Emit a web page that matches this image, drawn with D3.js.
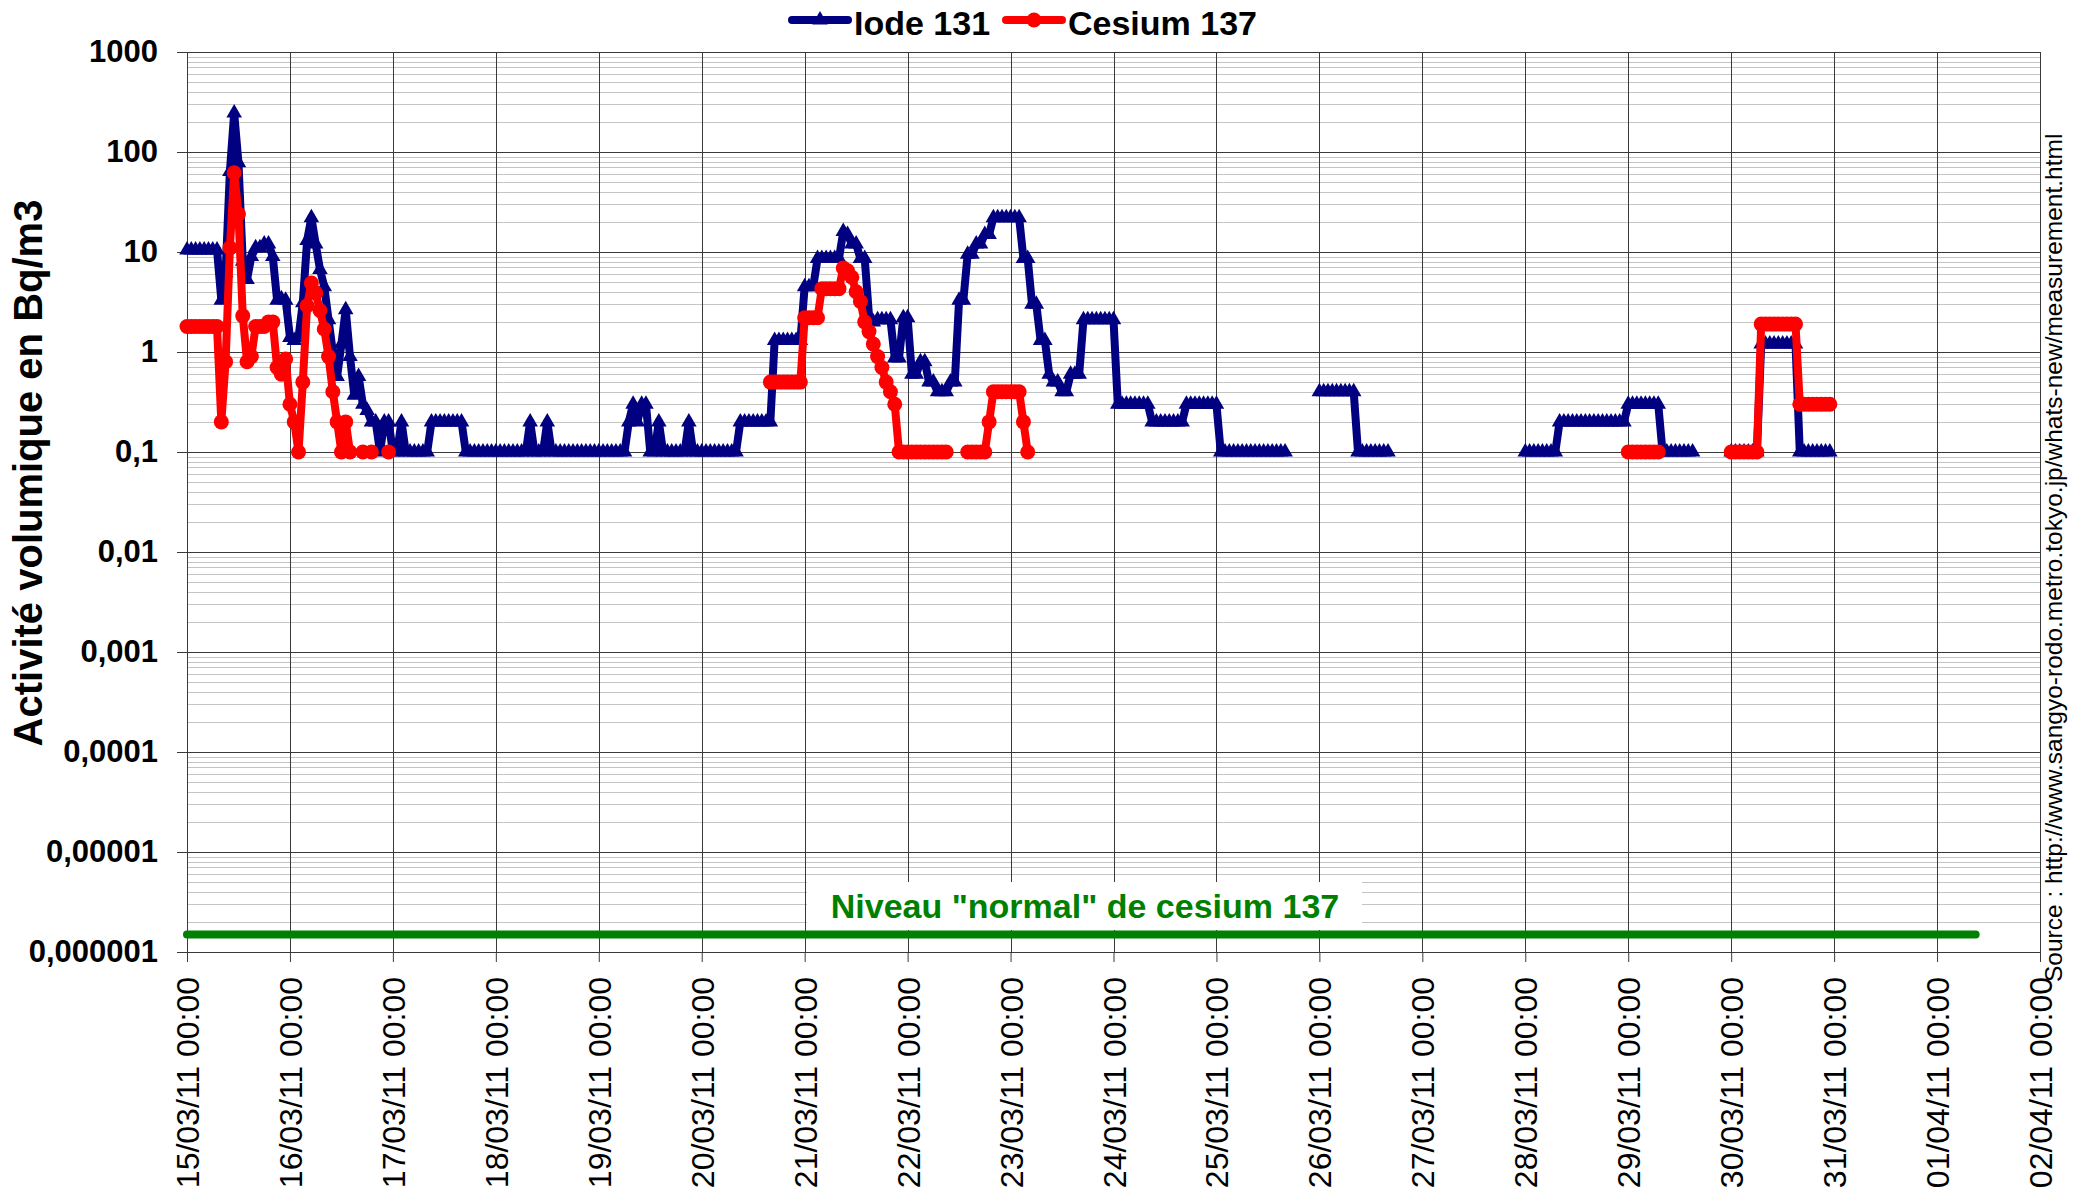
<!DOCTYPE html>
<html>
<head>
<meta charset="utf-8">
<script src="https://cdn.jsdelivr.net/npm/d3@7"></script>
<style>
  body { margin: 0; background: #fff; }
  svg { display: block; font-family: "Liberation Sans", Arial, sans-serif; }
</style>
</head>
<body>
<svg id="chart" width="2090" height="1194"></svg>
<script>
// hourly readings from 15/03/11 00:00, one row of 8 hours per line, _ = no value
var _ = null
var startTime = Date.UTC(2011, 2, 15, 0)
var endTime = Date.UTC(2011, 3, 2, 0)

var iode131 = [
  // 15/03
  10.5,10.5,10.5,10.5,10.5,10.5,10.5,10.5,
  3.3,6.2,64,245,78,8.1,5.3,9,
  11,11,12,12,9,3.3,3.4,3.3,
  // 16/03
  1.4,1.3,1.4,3.1,13,22,12,6.7,
  4.5,2.1,1.0,0.57,1.2,2.65,0.9,0.37,
  0.57,0.3,0.26,0.2,0.2,0.1,0.2,0.2,
  // 17/03
  0.1,0.1,0.2,0.1,0.1,0.1,0.1,0.1,
  0.1,0.2,0.2,0.2,0.2,0.2,0.2,0.2,
  0.2,0.1,0.1,0.1,0.1,0.1,0.1,0.1,
  // 18/03
  0.1,0.1,0.1,0.1,0.1,0.1,0.1,0.1,
  0.2,0.1,0.1,0.1,0.2,0.1,0.1,0.1,
  0.1,0.1,0.1,0.1,0.1,0.1,0.1,0.1,
  // 19/03
  0.1,0.1,0.1,0.1,0.1,0.1,0.1,0.2,
  0.3,0.2,0.3,0.3,0.1,0.1,0.2,0.1,
  0.1,0.1,0.1,0.1,0.1,0.2,0.1,0.1,
  // 20/03
  0.1,0.1,0.1,0.1,0.1,0.1,0.1,0.1,
  0.1,0.2,0.2,0.2,0.2,0.2,0.2,0.2,
  0.2,1.3,1.3,1.3,1.3,1.3,1.3,1.3,
  // 21/03
  4.5,4.5,4.5,8.6,8.6,8.6,8.6,8.6,
  8.6,16,15,12,12,8.6,8.6,2.3,
  2.0,2.1,2.1,2.1,2.1,0.87,0.87,2.2,
  // 22/03
  2.2,0.6,0.6,0.8,0.8,0.5,0.5,0.4,
  0.4,0.4,0.5,0.5,3.3,3.3,9.5,9.5,
  12,12,15,15,22,22,22,22,
  // 23/03
  22,22,22,8.6,8.6,3,3,1.3,
  1.3,0.6,0.5,0.5,0.4,0.4,0.6,0.6,
  0.6,2.1,2.1,2.1,2.1,2.1,2.1,2.1,
  // 24/03
  2.1,0.3,0.3,0.3,0.3,0.3,0.3,0.3,
  0.3,0.2,0.2,0.2,0.2,0.2,0.2,0.2,
  0.2,0.3,0.3,0.3,0.3,0.3,0.3,0.3,
  // 25/03
  0.3,0.1,0.1,0.1,0.1,0.1,0.1,0.1,
  0.1,0.1,0.1,0.1,0.1,0.1,0.1,0.1,
  0.1,_,_,_,_,_,_,_,
  // 26/03
  0.4,0.4,0.4,0.4,0.4,0.4,0.4,0.4,
  0.4,0.1,0.1,0.1,0.1,0.1,0.1,0.1,
  0.1,_,_,_,_,_,_,_,
  // 27/03
  _,_,_,_,_,_,_,_,
  _,_,_,_,_,_,_,_,
  _,_,_,_,_,_,_,_,
  // 28/03
  0.1,0.1,0.1,0.1,0.1,0.1,0.1,0.1,
  0.2,0.2,0.2,0.2,0.2,0.2,0.2,0.2,
  0.2,0.2,0.2,0.2,0.2,0.2,0.2,0.2,
  // 29/03
  0.3,0.3,0.3,0.3,0.3,0.3,0.3,0.3,
  0.1,0.1,0.1,0.1,0.1,0.1,0.1,0.1,
  _,_,_,_,_,_,_,_,
  // 30/03
  0.1,0.1,0.1,0.1,0.1,0.1,0.1,1.2,
  1.2,1.2,1.2,1.2,1.2,1.2,1.2,1.2,
  0.1,0.1,0.1,0.1,0.1,0.1,0.1,0.1
]

var cesium137 = [
  // 15/03
  1.8,1.8,1.8,1.8,1.8,1.8,1.8,1.8,
  0.2,0.8,11,62,24,2.3,0.8,0.9,
  1.8,1.8,1.8,2.0,2.0,0.7,0.6,0.85,
  // 16/03
  0.3,0.2,0.1,0.5,2.9,4.9,3.9,2.6,
  1.7,0.9,0.4,0.2,0.1,0.2,0.1,_,
  _,0.1,_,0.1,_,_,_,0.1,
  // 17/03
  _,_,_,_,_,_,_,_, _,_,_,_,_,_,_,_, _,_,_,_,_,_,_,_,
  // 18/03
  _,_,_,_,_,_,_,_, _,_,_,_,_,_,_,_, _,_,_,_,_,_,_,_,
  // 19/03
  _,_,_,_,_,_,_,_, _,_,_,_,_,_,_,_, _,_,_,_,_,_,_,_,
  // 20/03
  _,_,_,_,_,_,_,_,
  _,_,_,_,_,_,_,_,
  0.5,0.5,0.5,0.5,0.5,0.5,0.5,0.5,
  // 21/03
  2.2,2.2,2.2,2.2,4.3,4.3,4.3,4.3,
  4.3,6.9,6.5,5.6,4,3.2,2,1.6,
  1.2,0.9,0.7,0.5,0.4,0.3,0.1,0.1,
  // 22/03
  0.1,0.1,0.1,0.1,0.1,0.1,0.1,0.1,
  0.1,0.1,_,_,_,_,0.1,0.1,
  0.1,0.1,0.1,0.2,0.4,0.4,0.4,0.4,
  // 23/03
  0.4,0.4,0.4,0.2,0.1,_,_,_,
  _,_,_,_,_,_,_,_, _,_,_,_,_,_,_,_,
  // 24/03
  _,_,_,_,_,_,_,_, _,_,_,_,_,_,_,_, _,_,_,_,_,_,_,_,
  // 25/03
  _,_,_,_,_,_,_,_, _,_,_,_,_,_,_,_, _,_,_,_,_,_,_,_,
  // 26/03
  _,_,_,_,_,_,_,_, _,_,_,_,_,_,_,_, _,_,_,_,_,_,_,_,
  // 27/03
  _,_,_,_,_,_,_,_, _,_,_,_,_,_,_,_, _,_,_,_,_,_,_,_,
  // 28/03
  _,_,_,_,_,_,_,_, _,_,_,_,_,_,_,_, _,_,_,_,_,_,_,_,
  // 29/03
  0.1,0.1,0.1,0.1,0.1,0.1,0.1,0.1,
  _,_,_,_,_,_,_,_, _,_,_,_,_,_,_,_,
  // 30/03
  0.1,0.1,0.1,0.1,0.1,0.1,0.1,1.9,
  1.9,1.9,1.9,1.9,1.9,1.9,1.9,1.9,
  0.3,0.3,0.3,0.3,0.3,0.3,0.3,0.3
]

// "normal" cesium level line
var normalLevel = 1.5e-6
var normalEnd = Date.UTC(2011, 3, 1, 9)

var yTickValues = [1e-6, 1e-5, 1e-4, 1e-3, 0.01, 0.1, 1, 10, 100, 1000]
var yTickLabels = ["0,000001", "0,00001", "0,0001", "0,001", "0,01", "0,1", "1", "10", "100", "1000"]
var seriesNames = ["Iode 131", "Cesium 137"]

function toPoints(values){
  return values.map(function(v, i){
    return {t: new Date(startTime + i * 3600000), v: v}
  })
}

function drawChart(){
  var svg = d3.select('#chart')
  var left = 187, right = 2040, top = 52, bottom = 952

  var x = d3.scaleUtc().domain([startTime, endTime]).range([left, right])
  var y = d3.scaleLog().domain([1e-6, 1000]).range([bottom, top])

  svg.append('rect').attr('width', 2090).attr('height', 1194).attr('fill', '#fff')

  // minor grid (2..9 of each decade)
  var minor = y.ticks().filter(function(d){ return yTickValues.indexOf(d) < 0 && Math.abs(Math.log10(d) % 1) > 1e-6 })
  svg.append('g').selectAll('line')
    .data(minor).enter().append('line')
    .attr('x1', left).attr('x2', right)
    .attr('y1', function(d){ return Math.round(y(d)) + 0.5 })
    .attr('y2', function(d){ return Math.round(y(d)) + 0.5 })
    .attr('stroke', '#c4c4c4').attr('stroke-width', 1)

  // major grid
  svg.append('g').selectAll('line')
    .data(yTickValues).enter().append('line')
    .attr('x1', left).attr('x2', right)
    .attr('y1', function(d){ return Math.round(y(d)) + 0.5 })
    .attr('y2', function(d){ return Math.round(y(d)) + 0.5 })
    .attr('stroke', '#3a3a3a').attr('stroke-width', 1)

  var days = d3.utcDay.range(new Date(startTime), new Date(endTime + 1))
  svg.append('g').selectAll('line')
    .data(days).enter().append('line')
    .attr('x1', function(d){ return Math.round(x(d)) + 0.5 })
    .attr('x2', function(d){ return Math.round(x(d)) + 0.5 })
    .attr('y1', top).attr('y2', bottom)
    .attr('stroke', '#3a3a3a').attr('stroke-width', 1)

  // x axis
  var xAxis = svg.append('g')
    .attr('transform', 'translate(0,' + bottom + ')')
    .call(d3.axisBottom(x).tickValues(days).tickFormat(d3.utcFormat('%d/%m/%y %H:%M')).tickSize(10).tickSizeOuter(0))
  xAxis.select('.domain').attr('stroke', '#3a3a3a')
  xAxis.selectAll('.tick line').attr('stroke', '#3a3a3a')
  xAxis.selectAll('text')
    .attr('transform', 'rotate(-90)')
    .attr('text-anchor', 'end')
    .attr('x', -25).attr('y', 0).attr('dy', '0.36em')
    .attr('font-size', 32)
    .attr('font-family', '"Liberation Sans", Arial, sans-serif')
    .attr('fill', '#000')

  // y axis
  var yAxis = svg.append('g')
    .attr('transform', 'translate(' + left + ',0)')
    .call(d3.axisLeft(y).tickValues(yTickValues).tickFormat(function(d, i){ return yTickLabels[i] }).tickSize(10).tickPadding(19).tickSizeOuter(0))
  yAxis.select('.domain').attr('stroke', '#3a3a3a')
  yAxis.selectAll('.tick line').attr('stroke', '#3a3a3a')
  yAxis.selectAll('text')
    .attr('font-size', 31).attr('font-weight', 'bold')
    .attr('font-family', '"Liberation Sans", Arial, sans-serif')
    .attr('fill', '#000')

  // right border
  svg.append('line').attr('x1', right + 0.5).attr('x2', right + 0.5).attr('y1', top).attr('y2', bottom)
    .attr('stroke', '#3a3a3a')

  // label box for the normal level
  svg.append('rect').attr('x', 807).attr('y', 882).attr('width', 555).attr('height', 48).attr('fill', '#fff')
  svg.append('text')
    .attr('x', 1085).attr('y', 918)
    .attr('text-anchor', 'middle')
    .attr('font-size', 34).attr('font-weight', 'bold')
    .attr('fill', '#008000')
    .text('Niveau "normal" de cesium 137')

  svg.append('line')
    .attr('x1', x(startTime)).attr('x2', x(normalEnd))
    .attr('y1', y(normalLevel)).attr('y2', y(normalLevel))
    .attr('stroke', '#008000').attr('stroke-width', 8).attr('stroke-linecap', 'round')

  var line = d3.line()
    .defined(function(d){ return d.v != null })
    .x(function(d){ return x(d.t) })
    .y(function(d){ return y(d.v) })

  var tri = d3.symbol().type(d3.symbolTriangle).size(105)

  // Iode 131
  var iPts = toPoints(iode131)
  svg.append('path').datum(iPts)
    .attr('d', line)
    .attr('fill', 'none').attr('stroke', '#000080').attr('stroke-width', 8).attr('stroke-linejoin', 'round')
  svg.append('g').selectAll('path')
    .data(iPts.filter(function(d){ return d.v != null })).enter().append('path')
    .attr('d', tri)
    .attr('transform', function(d){ return 'translate(' + x(d.t) + ',' + y(d.v) + ')' })
    .attr('fill', '#000080')

  // Cesium 137
  var cPts = toPoints(cesium137)
  svg.append('path').datum(cPts)
    .attr('d', line)
    .attr('fill', 'none').attr('stroke', '#ff0000').attr('stroke-width', 8).attr('stroke-linejoin', 'round')
  svg.append('g').selectAll('circle')
    .data(cPts.filter(function(d){ return d.v != null })).enter().append('circle')
    .attr('cx', function(d){ return x(d.t) })
    .attr('cy', function(d){ return y(d.v) })
    .attr('r', 7.5)
    .attr('fill', '#ff0000')

  // legend
  var legend = svg.append('g')
  var lx = [792, 1006]
  var colors = ['#000080', '#ff0000']
  seriesNames.forEach(function(name, i){
    legend.append('line')
      .attr('x1', lx[i]).attr('x2', lx[i] + 56).attr('y1', 20).attr('y2', 20)
      .attr('stroke', colors[i]).attr('stroke-width', 8).attr('stroke-linecap', 'round')
    if (i == 0) {
      legend.append('path').attr('d', tri).attr('transform', 'translate(' + (lx[i] + 28) + ',20)').attr('fill', colors[i])
    } else {
      legend.append('circle').attr('cx', lx[i] + 28).attr('cy', 20).attr('r', 7.5).attr('fill', colors[i])
    }
    legend.append('text')
      .attr('x', lx[i] + 62).attr('y', 35)
      .attr('font-size', 34).attr('font-weight', 'bold')
      .text(name)
  })

  // Y axis title
  svg.append('text')
    .attr('transform', 'translate(42,473) rotate(-90)')
    .attr('text-anchor', 'middle')
    .attr('font-size', 40).attr('font-weight', 'bold')
    .text('Activité volumique en Bq/m3')

  // source
  svg.append('text')
    .attr('transform', 'translate(2062,982) rotate(-90)')
    .attr('font-size', 24.5)
    .text('Source : http://www.sangyo-rodo.metro.tokyo.jp/whats-new/measurement.html')
}

drawChart()
</script>
</body>
</html>
